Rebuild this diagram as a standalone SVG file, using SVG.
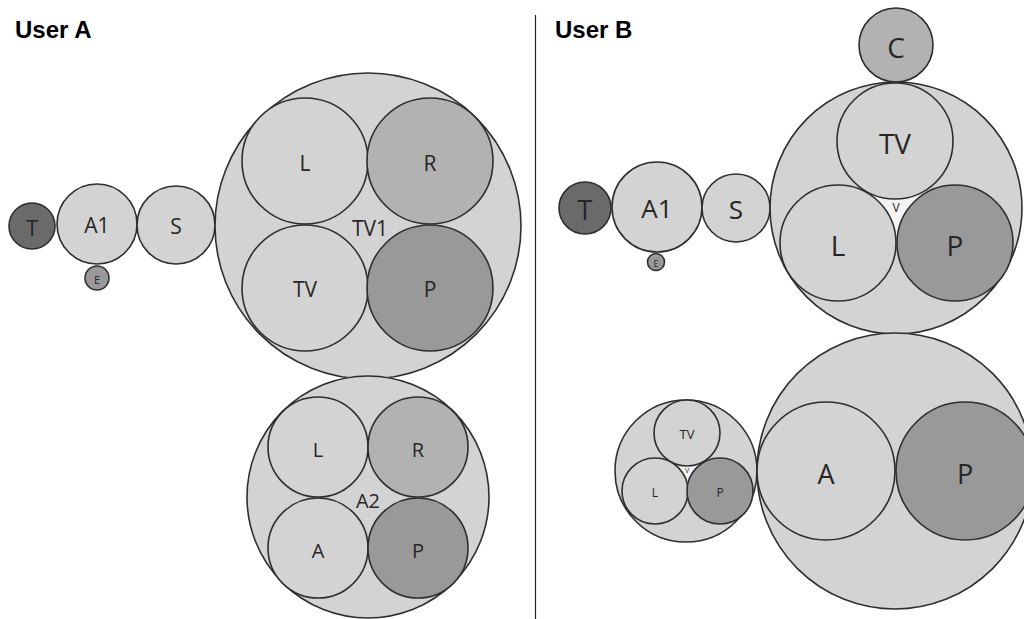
<svg xmlns="http://www.w3.org/2000/svg" width="1024" height="619" viewBox="0 0 1024 619">
  <style>
    .c { stroke: #2e2e2e; stroke-width: 1.6; }
    .lt { fill: #d3d3d3; }
    .md { fill: #b2b2b2; }
    .dk { fill: #999999; }
    .xd { fill: #6a6a6a; }
    .lbl { font-family: "Open Sans", "DejaVu Sans", sans-serif; fill: #262626; text-anchor: middle; dominant-baseline: central; }
    .hdr { font-family: "Liberation Sans", Arial, sans-serif; font-weight: bold; font-size: 24px; fill: #000; }
    .gap { fill: #f4f4f4; stroke: none; }
  </style>

  <rect width="1024" height="619" fill="#ffffff"/>

  <!-- headers and divider -->
  <text class="hdr" x="15" y="38">User A</text>
  <text class="hdr" x="555" y="38">User B</text>
  <line x1="535.5" y1="15" x2="535.5" y2="619" stroke="#222" stroke-width="1.2"/>

  <!-- ===== User A ===== -->
  <g id="a-t">
    <circle class="c xd" cx="32" cy="226" r="23"/>
    <text class="lbl" x="32" y="227" font-size="22">T</text>
  </g>
  <g id="a-a1">
    <circle class="c lt" cx="97" cy="224" r="40"/>
    <text class="lbl" x="97" y="225" font-size="21">A1</text>
  </g>
  <g id="a-e">
    <circle class="c dk" cx="97" cy="278" r="12"/>
    <text class="lbl" x="97" y="279" font-size="11">E</text>
  </g>
  <g id="a-s">
    <circle class="c lt" cx="176" cy="225" r="39"/>
    <text class="lbl" x="176" y="226" font-size="21">S</text>
  </g>

  <g id="a-tv1">
    <circle class="c lt" cx="368" cy="226" r="153"/>
    <circle class="c lt" cx="305" cy="161" r="63"/>
    <text class="lbl" x="305" y="163" font-size="21">L</text>
    <circle class="c md" cx="430" cy="161" r="63"/>
    <text class="lbl" x="430" y="163" font-size="21">R</text>
    <circle class="c lt" cx="305" cy="288" r="63"/>
    <text class="lbl" x="305" y="289" font-size="21">TV</text>
    <circle class="c dk" cx="430" cy="288" r="63"/>
    <text class="lbl" x="430" y="289" font-size="21">P</text>
    <text class="lbl" x="370" y="228" font-size="21">TV1</text>
  </g>

  <g id="a-a2">
    <circle class="c lt" cx="368" cy="497" r="121"/>
    <circle class="c lt" cx="318" cy="447" r="50"/>
    <text class="lbl" x="318" y="449" font-size="20">L</text>
    <circle class="c md" cx="418" cy="447" r="50"/>
    <text class="lbl" x="418" y="449" font-size="20">R</text>
    <circle class="c lt" cx="318" cy="548" r="50"/>
    <text class="lbl" x="318" y="550" font-size="20">A</text>
    <circle class="c dk" cx="418" cy="548" r="50"/>
    <text class="lbl" x="418" y="550" font-size="20">P</text>
    <text class="lbl" x="368" y="500" font-size="20">A2</text>
  </g>

  <!-- ===== User B ===== -->
  <g id="b-t">
    <circle class="c xd" cx="585" cy="208" r="26"/>
    <text class="lbl" x="585" y="209" font-size="27">T</text>
  </g>
  <g id="b-a1">
    <circle class="c lt" cx="657" cy="207" r="45"/>
    <text class="lbl" x="657" y="208" font-size="26">A1</text>
  </g>
  <g id="b-e">
    <circle class="c dk" cx="656" cy="262" r="8.5"/>
    <text class="lbl" x="656" y="263" font-size="9">E</text>
  </g>
  <g id="b-s">
    <circle class="c lt" cx="736" cy="208" r="34"/>
    <text class="lbl" x="736" y="209" font-size="26">S</text>
  </g>
  <g id="b-c">
    <circle class="c md" cx="896" cy="45" r="37"/>
    <text class="lbl" x="896" y="47" font-size="28">C</text>
  </g>

  <g id="b-tv">
    <circle class="c lt" cx="896" cy="208" r="126"/>
    <polygon class="gap" points="895,141 838,243 955,243"/>
    <circle class="c lt" cx="895" cy="141" r="58"/>
    <text class="lbl" x="895" y="143" font-size="28">TV</text>
    <circle class="c lt" cx="838" cy="243" r="58"/>
    <text class="lbl" x="838" y="245" font-size="28">L</text>
    <circle class="c dk" cx="955" cy="243" r="58"/>
    <text class="lbl" x="955" y="245" font-size="28">P</text>
    <text class="lbl" x="896" y="207" font-size="12">V</text>
  </g>

  <g id="b-small">
    <circle class="c lt" cx="686" cy="471" r="71"/>
    <polygon class="gap" points="687,433 655,491 720,491"/>
    <circle class="c lt" cx="687" cy="433" r="33"/>
    <text class="lbl" x="687" y="434" font-size="13">TV</text>
    <circle class="c lt" cx="655" cy="491" r="33"/>
    <text class="lbl" x="655" y="492" font-size="12">L</text>
    <circle class="c dk" cx="720" cy="491" r="33"/>
    <text class="lbl" x="720" y="492" font-size="12">P</text>
    <text class="lbl" x="687" y="470" font-size="7">V</text>
  </g>

  <g id="b-ap">
    <circle class="c lt" cx="895" cy="471" r="138"/>
    <circle class="c lt" cx="826" cy="471" r="69"/>
    <text class="lbl" x="826" y="473" font-size="27">A</text>
    <circle class="c dk" cx="965" cy="471" r="69"/>
    <text class="lbl" x="965" y="473" font-size="27">P</text>
  </g>
</svg>
